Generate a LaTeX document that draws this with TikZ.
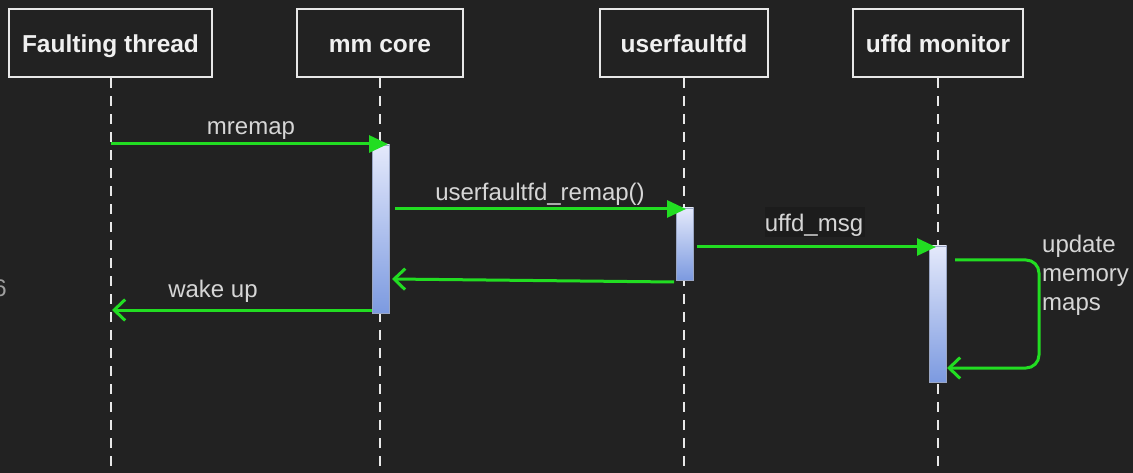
\documentclass[tikz,border=0pt]{standalone}
\usepackage{fontspec}
\setmainfont{Liberation Sans}
\usetikzlibrary{arrows.meta}

\definecolor{bg}{HTML}{222222}
\definecolor{labelbg}{HTML}{1C1C1C}
\definecolor{frame}{HTML}{E8E8E8}
\definecolor{msggreen}{HTML}{22DD22}
\definecolor{labelgray}{HTML}{D6D6D6}
\definecolor{bartop}{HTML}{E4E9FB}
\definecolor{barbottom}{HTML}{7C9AE0}
\definecolor{baredge}{HTML}{9AA6C4}

\tikzset{
  actor/.style={draw=frame, line width=2.2pt, fill=bg, text=white!94!black,
    minimum height=68pt, inner sep=0pt, text height=20pt, text depth=0pt,
    font=\fontsize{24.5}{29}\selectfont\bfseries},
  lifeline/.style={draw=frame, line width=2.4pt, dash pattern=on 10pt off 8pt},
  actbar/.style={draw=baredge, line width=0.8pt, top color=bartop,
    bottom color=barbottom, minimum width=17pt, inner sep=0pt},
  call/.style={draw=msggreen, line width=3pt,
    -{Triangle[length=19pt,width=17pt]}},
  reply/.style={draw=msggreen, line width=3pt,
    -{Straight Barb[length=11pt,width=21pt,line width=3pt]}},
  lbl/.style={text=labelgray, inner sep=0pt, anchor=base,
    font=\fontsize{24}{29}\selectfont},
}

\begin{document}
\begin{tikzpicture}[x=1pt,y=-1pt]
  \fill[bg] (0,0) rectangle (1133,473);
  \useasboundingbox (0,0) rectangle (1133,473);

  % stray glyph at the left border
  \node[text=gray!75, inner sep=0pt, anchor=base east,
        font=\fontsize{24}{29}\selectfont] (edge) at (7,297) {6};

  % participants
  \node[actor, minimum width=203pt] (ft)  at (110.5,43) {Faulting thread};
  \node[actor, minimum width=166pt] (mm)  at (380,43)   {mm core};
  \node[actor, minimum width=168pt] (uf)  at (684,43)   {userfaultfd};
  \node[actor, minimum width=170pt] (mon) at (938,43)   {uffd monitor};

  % lifelines
  \coordinate (ftend)  at (111,473);
  \coordinate (mmend)  at (380,473);
  \coordinate (ufend)  at (684,473);
  \coordinate (monend) at (938,473);
  \draw[lifeline] (ft.south -| ftend) -- (ftend);
  \draw[lifeline] (mm.south) -- (mmend);
  \draw[lifeline] (uf.south) -- (ufend);
  \draw[lifeline] (mon.south) -- (monend);

  % activation bars
  \node[actbar, minimum height=168pt] (mmact)  at (381,229) {};
  \node[actbar, minimum height=72pt]  (ufact)  at (685,244) {};
  \node[actbar, minimum height=136pt] (monact) at (938,314) {};

  % mremap
  \coordinate (ftcall) at (111,144);
  \coordinate (mmtip)  at (388,144);
  \draw[call] (ftcall) -- (mmtip);
  \node[lbl] (lmremap) at (251,135) {mremap};

  % userfaultfd_remap()
  \coordinate (mmout) at (395,209);
  \coordinate (uftip) at (686,209);
  \draw[call] (mmout) -- (uftip);
  \node[lbl] (lremap) at (540,201) {userfaultfd\_remap()};

  % uffd_msg
  \coordinate (ufout)  at (697,247);
  \coordinate (montip) at (936,247);
  \draw[call] (ufout) -- (montip);
  \node[fill=labelbg, minimum width=100pt, minimum height=30pt,
        inner sep=0pt] (msgbg) at (814.5,222) {};
  \node[lbl] (lmsg) at (814,232) {uffd\_msg};

  % self message on the monitor
  \coordinate (selfout) at (955,260);
  \coordinate (selfin)  at (947,368);
  \draw[reply, rounded corners=13pt]
    (selfout) -- (1039,260) -- (1039,368) -- (selfin);
  \node[lbl, anchor=base west] (lupd) at (1042,253) {update};
  \node[lbl, anchor=base west] (lmem) at (1042,282) {memory};
  \node[lbl, anchor=base west] (lmaps) at (1042,310) {maps};

  % return from userfaultfd to mm core
  \coordinate (ufret) at (674,282);
  \coordinate (mmret) at (392,279);
  \draw[reply] (ufret) -- (mmret);

  % wake up
  \coordinate (mmwake) at (372,310);
  \coordinate (ftwake) at (112,310);
  \draw[reply] (mmwake) -- (ftwake);
  \node[lbl] (lwake) at (213,298) {wake up};
\end{tikzpicture}
\end{document}
